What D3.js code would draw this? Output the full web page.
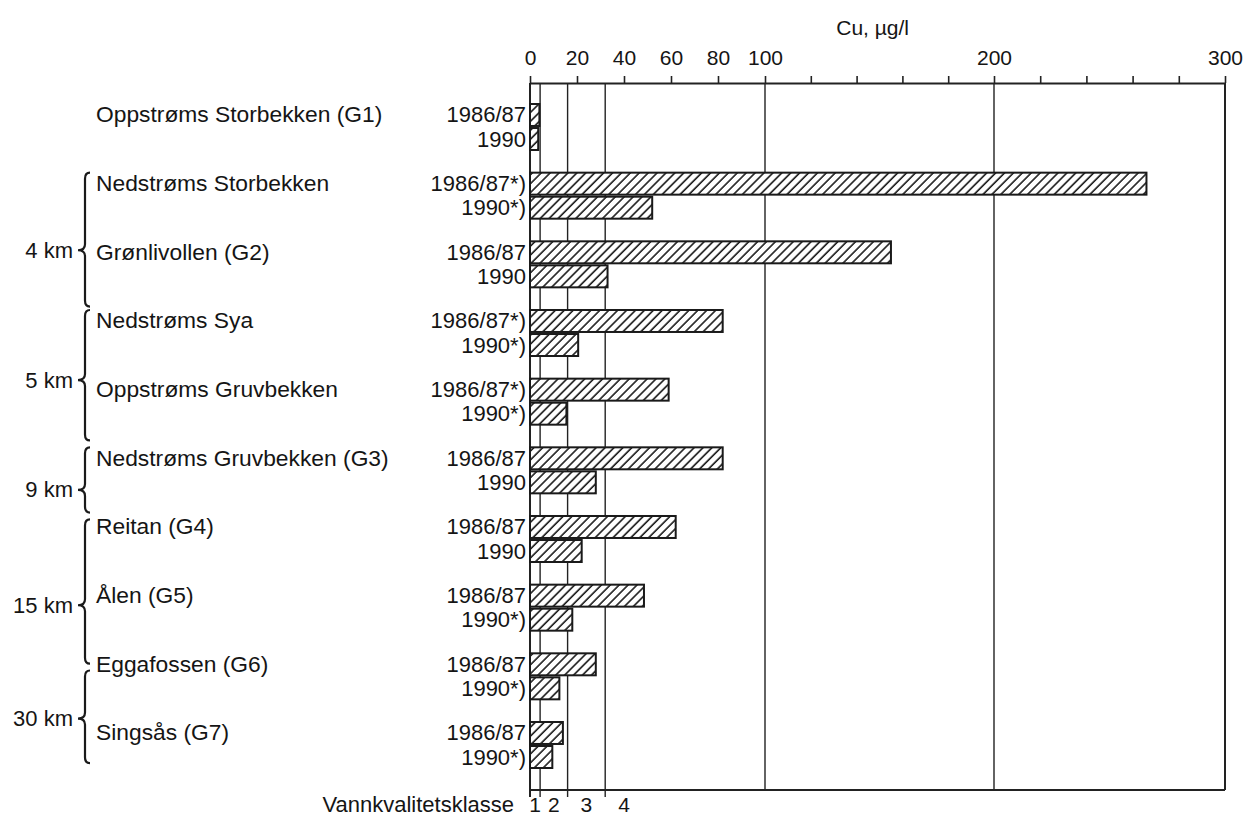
<!DOCTYPE html>
<html lang="no">
<head>
    <meta charset="UTF-8">
    <title>Cu, µg/l</title>
    <style>
        body { margin: 0; background: #fff; }
        svg text { font-family: "Liberation Sans", Arial, Helvetica, sans-serif; fill: #151515; }
    </style>
</head>
<body>
    <svg id="chart" width="1248" height="817"></svg>
    <script src="https://d3js.org/d3.v7.min.js"></script>
    <script>
        // stations, top to bottom
        var stations = ["Oppstrøms Storbekken (G1)", "Nedstrøms Storbekken", "Grønlivollen (G2)",
                        "Nedstrøms Sya", "Oppstrøms Gruvbekken", "Nedstrøms Gruvbekken (G3)",
                        "Reitan (G4)", "Ålen (G5)", "Eggafossen (G6)", "Singsås (G7)"];
        var years = ["1986/87", "1990"];
        // Cu, µg/l
        var cu8687 = [4, 266, 155, 82, 59, 82, 62, 48.5, 28, 14];
        var cu1990 = [3.5, 52, 33, 20.5, 15.5, 28, 22, 18, 12.5, 9.5];
        // year labels as printed (*) marks)
        var label8687 = ["1986/87", "1986/87*)", "1986/87", "1986/87*)", "1986/87*)", "1986/87", "1986/87", "1986/87", "1986/87", "1986/87"];
        var label1990 = ["1990", "1990*)", "1990", "1990*)", "1990*)", "1990", "1990", "1990*)", "1990*)", "1990*)"];

        var xTicks = d3.range(0, 301, 20);
        var xLabelled = [0, 20, 40, 60, 80, 100, 200, 300];
        var classBounds = [4.3, 16, 32];
        var classNames = ["1", "2", "3", "4"];

        // distance braces: rows given as station index (fractional)
        var braceLabels = ["4 km", "5 km", "9 km", "15 km", "30 km"];
        var braceFrom = [1.0, 3.0, 5.0, 6.05, 8.25];
        var braceTip  = [2.13, 4.02, 5.62, 7.3, 8.95];
        var braceTo   = [2.95, 4.9, 5.95, 8.15, 9.6];

        var svg = d3.select("#chart");

        var plotLeft = 530, plotTop = 83, plotBottom = 790;

        // the printed axis is close to linear but not quite, so use a polylinear scale
        var x = d3.scaleLinear()
                  .domain([0, 100, 200, 300])
                  .range([plotLeft, 765, 994, 1225]);

        var y = d3.scaleBand()
                  .domain(stations)
                  .range([104, 768])
                  .paddingInner(0.33)
                  .paddingOuter(0)
                  .align(0);

        var yIn = d3.scaleBand()
                    .domain(years)
                    .range([0, y.bandwidth()])
                    .paddingInner(0.085);

        var rowY = d3.scaleLinear().domain([0, 1]).range([y(stations[0]), y(stations[1])]);

        // hatch pattern
        var defs = svg.append("defs");
        var pat = defs.append("pattern")
            .attr("id", "hatch")
            .attr("patternUnits", "userSpaceOnUse")
            .attr("width", 6.3)
            .attr("height", 6.3)
            .attr("patternTransform", "rotate(45)");
        pat.append("rect").attr("width", 6.3).attr("height", 6.3).attr("fill", "#fff");
        pat.append("line")
            .attr("x1", 1).attr("y1", 0).attr("x2", 1).attr("y2", 6.3)
            .attr("stroke", "#1a1a1a").attr("stroke-width", 1.6);

        // vertical lines: 100 and 200
        svg.selectAll(".grid")
           .data([100, 200])
           .enter().append("line")
           .attr("x1", function(d) { return x(d); })
           .attr("x2", function(d) { return x(d); })
           .attr("y1", plotTop).attr("y2", plotBottom)
           .attr("stroke", "#222").attr("stroke-width", 1.4);

        // water quality class boundaries
        svg.selectAll(".cls")
           .data(classBounds)
           .enter().append("line")
           .attr("x1", function(d) { return x(d); })
           .attr("x2", function(d) { return x(d); })
           .attr("y1", plotTop).attr("y2", plotBottom + 7)
           .attr("stroke", "#222").attr("stroke-width", 1.4);

        // frame
        svg.append("line").attr("x1", x(0)).attr("x2", x(0)).attr("y1", plotTop).attr("y2", plotBottom + 7)
           .attr("stroke", "#222").attr("stroke-width", 2);
        svg.append("line").attr("x1", x(300)).attr("x2", x(300)).attr("y1", plotTop).attr("y2", plotBottom)
           .attr("stroke", "#222").attr("stroke-width", 2);
        svg.append("line").attr("x1", x(0)).attr("x2", x(300)).attr("y1", plotBottom).attr("y2", plotBottom)
           .attr("stroke", "#222").attr("stroke-width", 2);

        // top axis
        var axis = svg.append("g")
           .attr("transform", "translate(0," + plotTop + ")")
           .call(d3.axisTop(x)
                   .tickValues(xTicks)
                   .tickFormat(function(d) { return xLabelled.indexOf(d) >= 0 ? d : ""; })
                   .tickSizeInner(7)
                   .tickSizeOuter(0)
                   .tickPadding(11));
        axis.select(".domain").attr("stroke", "#222").attr("stroke-width", 2);
        axis.selectAll(".tick line").attr("stroke", "#222").attr("stroke-width", 1.6);
        axis.selectAll(".tick text")
            .style("font-size", "21px")
            .style("font-family", "'Liberation Sans', Arial, sans-serif")
            .attr("fill", "#151515");

        svg.append("text")
           .attr("x", x(147))
           .attr("y", 35)
           .attr("text-anchor", "middle")
           .style("font-size", "21px")
           .text("Cu, µg/l");

        // bars
        var rows = [];
        stations.forEach(function(s, i) {
            rows.push({ station: s, year: years[0], value: cu8687[i], label: label8687[i] });
            rows.push({ station: s, year: years[1], value: cu1990[i], label: label1990[i] });
        });

        svg.selectAll(".bar")
           .data(rows)
           .enter().append("rect")
           .attr("class", "bar")
           .attr("x", x(0))
           .attr("y", function(d) { return y(d.station) + yIn(d.year); })
           .attr("width", function(d) { return x(d.value) - x(0); })
           .attr("height", yIn.bandwidth())
           .attr("fill", "url(#hatch)")
           .attr("stroke", "#1a1a1a")
           .attr("stroke-width", 2);

        svg.selectAll(".yearlab")
           .data(rows)
           .enter().append("text")
           .attr("x", x(0) - 4)
           .attr("y", function(d) { return y(d.station) + yIn(d.year) + yIn.bandwidth() / 2 + 7.5; })
           .attr("text-anchor", "end")
           .style("font-size", "22px")
           .text(function(d) { return d.label; });

        // station names
        svg.selectAll(".station")
           .data(stations)
           .enter().append("text")
           .attr("x", 96)
           .attr("y", function(d) { return y(d) + yIn(years[0]) + yIn.bandwidth() / 2 + 7.5; })
           .style("font-size", "22.8px")
           .text(function(d) { return d; });

        // braces
        function bracePath(y0, ym, y1) {
            var xr = 90, xv = 85, xt = 78, r = 6;
            return "M" + xr + "," + y0 +
                   " Q" + xv + "," + y0 + " " + xv + "," + (y0 + r) +
                   " L" + xv + "," + (ym - r) +
                   " Q" + xv + "," + ym + " " + xt + "," + ym +
                   " Q" + xv + "," + ym + " " + xv + "," + (ym + r) +
                   " L" + xv + "," + (y1 - r) +
                   " Q" + xv + "," + y1 + " " + xr + "," + y1;
        }

        braceLabels.forEach(function(lab, i) {
            var y0 = rowY(braceFrom[i]), ym = rowY(braceTip[i]), y1 = rowY(braceTo[i]);
            svg.append("path")
               .attr("d", bracePath(y0, ym, y1))
               .attr("fill", "none")
               .attr("stroke", "#1a1a1a")
               .attr("stroke-width", 2.2);
            svg.append("text")
               .attr("x", 73)
               .attr("y", ym + 7.5)
               .attr("text-anchor", "end")
               .style("font-size", "22px")
               .text(lab);
        });

        // class labels under the plot
        var classEdges = [0].concat(classBounds);
        svg.selectAll(".clslab")
           .data(classNames)
           .enter().append("text")
           .attr("x", function(d, i) {
               if (i < classEdges.length - 1) return (x(classEdges[i]) + x(classEdges[i + 1])) / 2;
               return x(classEdges[i]) + (x(classEdges[i]) - x(classEdges[i - 1])) / 2;
           })
           .attr("y", 812)
           .attr("text-anchor", "middle")
           .style("font-size", "21px")
           .text(function(d) { return d; });

        svg.append("text")
           .attr("x", 514)
           .attr("y", 812)
           .attr("text-anchor", "end")
           .style("font-size", "22px")
           .text("Vannkvalitetsklasse");
    </script>
</body>
</html>
